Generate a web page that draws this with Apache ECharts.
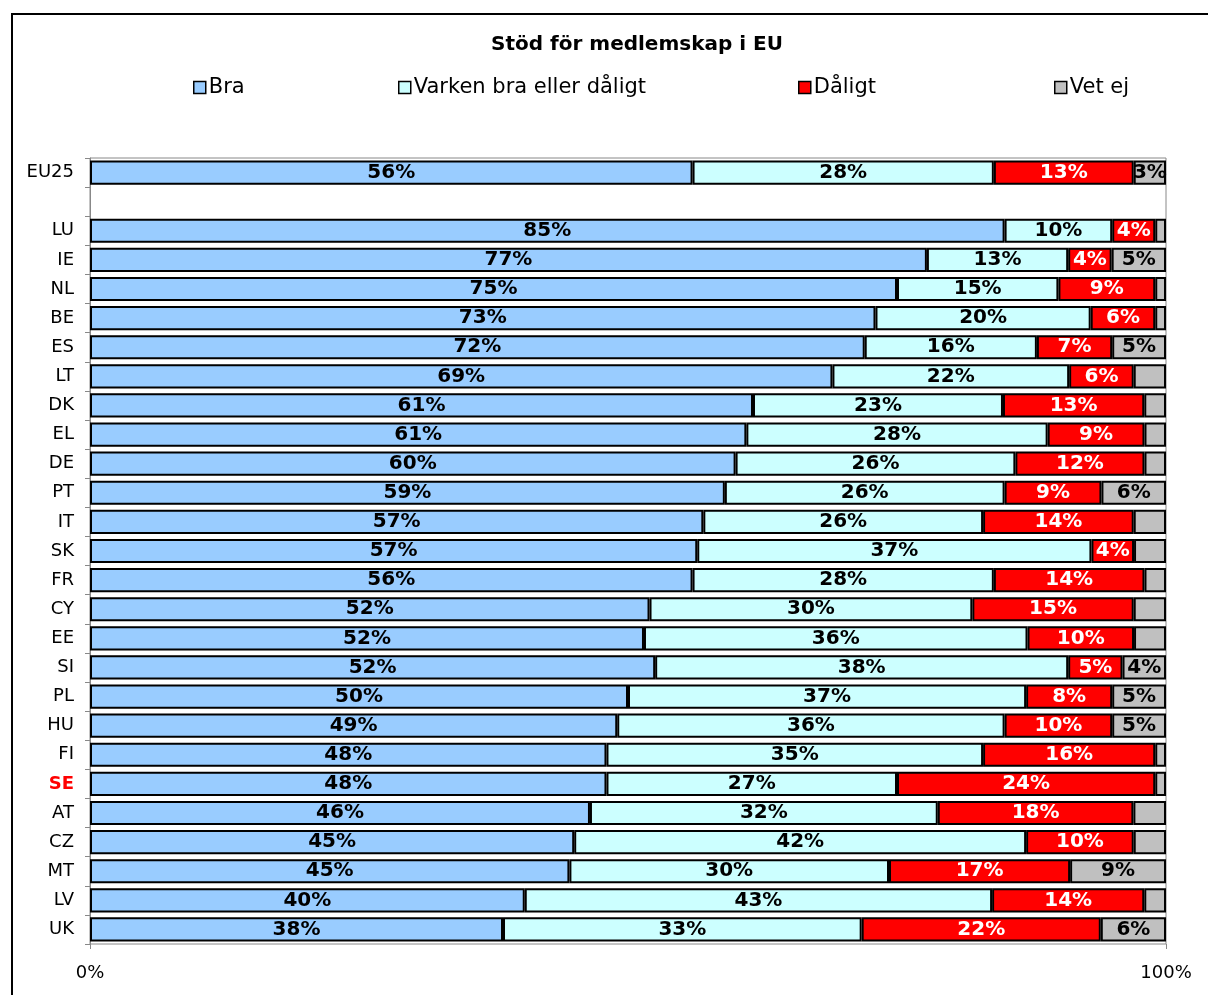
<!DOCTYPE html>
<html><head><meta charset="utf-8">
<script src="https://cdn.jsdelivr.net/npm/echarts@6/dist/echarts.min.js"></script>
<style>html,body{margin:0;padding:0;background:#fff}#c{width:1208px;height:995px}</style>
</head><body><div id="c"></div>
<script>
const categories = ['EU25','','LU','IE','NL','BE','ES','LT','DK','EL','DE','PT','IT','SK','FR','CY','EE','SI','PL','HU','FI','SE','AT','CZ','MT','LV','UK'];
const bra     = [56,null,85,77,75,73,72,69,61,61,60,59,57,57,56,52,52,52,50,49,48,48,46,45,45,40,38];
const varken  = [28,null,10,13,15,20,16,22,23,28,26,26,26,37,28,30,36,38,37,36,35,27,32,42,30,43,33];
const daligt  = [13,null,4,4,9,6,7,6,13,9,12,9,14,4,14,15,10,5,8,10,16,24,18,10,17,14,22];
const vetEj   = [3,null,1,5,1,1,5,3,2,2,2,6,3,3,2,3,3,4,5,5,1,1,3,3,9,2,6];
const vetEjLabelShown = [true,false,false,true,false,false,true,false,false,false,false,true,false,false,false,false,false,true,true,true,false,false,false,false,true,false,true];
const seriesNames = ['Bra','Varken bra eller dåligt','Dåligt','Vet ej'];
const xTickLabels = ['0%','100%'];

const raw = [bra, varken, daligt, vetEj];
const colors = ['#99CCFF','#CCFFFF','#FF0000','#C0C0C0'];
const labelColors = ['#000','#000','#fff','#000'];
const FONT = 'DejaVu Sans, Verdana, sans-serif';

function shares(k){
  return categories.map((c,i)=>{
    if (bra[i]==null) return '-';
    const tot = bra[i]+varken[i]+daligt[i]+vetEj[i];
    const v = raw[k][i]/tot*100;
    const show = k===3 ? vetEjLabelShown[i] : true;
    return {value: v, label: {show: show}};
  });
}

const series = seriesNames.map((name,k)=>({
  name, type:'bar', stack:'all', barCategoryGap:'17%',
  itemStyle:{color:colors[k], borderColor:'#000', borderWidth:2},
  label:{show:true, position:'inside', color:labelColors[k], fontFamily:FONT, fontWeight:'bold', fontSize:20,
    formatter:(p)=> raw[k][p.dataIndex] + '%'},
  data: shares(k),
  animation:false
}));

const legendLefts = [193, 398, 798, 1054];
const legends = seriesNames.map((n,k)=>({
  data:[n], left:legendLefts[k], top:77, padding:0, itemWidth:12, itemHeight:12, itemGap:4,
  icon:'rect',
  itemStyle:{borderColor:'#000', borderWidth:1.5},
  textStyle:{fontFamily:FONT, fontSize:21, color:'#000', padding:[0,0,0,-2]},
  selectedMode:false
}));

const chart = echarts.init(document.getElementById('c'));
chart.setOption({
  backgroundColor:'#fff',
  animation:false,
  title:{text:'Stöd för medlemskap i EU', left:632, textAlign:'center', top:30,
    textStyle:{fontFamily:FONT, fontWeight:'bold', fontSize:20, color:'#000'}},
  legend: legends,
  grid:{left:90, right:42, top:158, bottom:51, show:true, borderColor:'#888', borderWidth:1},
  xAxis:{type:'value', min:0, max:100, interval:100,
    axisLine:{show:false}, splitLine:{show:false},
    axisTick:{show:true, length:5, lineStyle:{color:'#888'}},
    axisLabel:{margin:20, fontFamily:FONT, fontSize:18, color:'#000',
      formatter:(v)=> v===0 ? xTickLabels[0] : xTickLabels[1]}},
  yAxis:{type:'category', data:categories, inverse:true,
    axisLine:{show:true, lineStyle:{color:'#888'}},
    axisTick:{show:true, length:5, lineStyle:{color:'#888'}},
    axisLabel:{margin:16, fontFamily:FONT, fontSize:18, color:'#000',
      formatter:(v)=> v==='SE' ? '{se|SE}' : v,
      rich:{se:{color:'#FF0000', fontWeight:'bold', fontFamily:FONT, fontSize:18}}}},
  graphic:[{type:'rect', shape:{x:12, y:14, width:1220, height:1010},
    style:{fill:'none', stroke:'#000', lineWidth:2}, z:-1, silent:true}],
  series
});
</script></body></html>
